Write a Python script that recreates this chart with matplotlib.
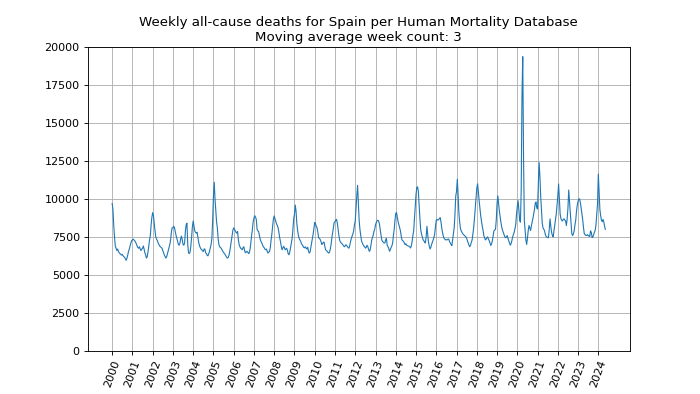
import numpy as np
import matplotlib.pyplot as plt

# Weekly deaths (3-week moving average), every 2 weeks (26 per year)
y2000 = [9700, 9300, 8300, 7500, 6900, 6750, 6600, 6700, 6550, 6450, 6400, 6350, 6300,
         6350, 6250, 6200, 6150, 6050, 5950, 6100, 6300, 6550, 6700, 6900, 7100, 7250]
y2001 = [7300, 7350, 7300, 7250, 7150, 7050, 6900, 6800, 6750, 6850, 6700, 6600, 6700,
         6750, 6900, 6700, 6450, 6300, 6100, 6200, 6500, 6900, 7300, 7600, 8300, 8800]
y2002 = [9100, 8900, 8400, 7900, 7500, 7350, 7250, 7100, 7000, 6900, 6850, 6800, 6750,
         6600, 6450, 6300, 6200, 6100, 6200, 6400, 6600, 6800, 7000, 7300, 7800, 8100]
y2003 = [8100, 8200, 8100, 7850, 7600, 7400, 7200, 7000, 6950, 7100, 7400, 7550, 7300,
         7000, 6950, 7100, 7900, 8300, 8400, 7000, 6450, 6400, 6500, 6900, 7500, 8200]
y2004 = [8550, 8200, 7900, 7800, 7750, 7800, 7500, 7150, 6950, 6800, 6700, 6650, 6580,
         6540, 6700, 6700, 6450, 6400, 6280, 6250, 6400, 6550, 6800, 7000, 7400, 8600]
y2005 = [10200, 11100, 10000, 9200, 8500, 8100, 7400, 7000, 6850, 6800, 6750, 6650, 6550,
         6480, 6400, 6330, 6250, 6150, 6100, 6150, 6300, 6550, 6900, 7300, 7650, 7950]
y2006 = [8100, 8000, 7900, 7800, 7750, 7850, 7300, 6980, 6850, 6750, 6700, 6650, 6800,
         6850, 6600, 6450, 6500, 6550, 6500, 6400, 6450, 6700, 7100, 7600, 8000, 8500]
y2007 = [8750, 8900, 8800, 8650, 8000, 7900, 7850, 7600, 7350, 7200, 7100, 6980, 6850,
         6800, 6700, 6650, 6700, 6550, 6430, 6500, 6550, 6800, 7300, 7700, 8200, 8700]
y2008 = [8880, 8700, 8500, 8350, 8250, 8100, 7800, 7450, 7200, 6900, 6650, 6750, 6880,
         6800, 6650, 6700, 6750, 6600, 6380, 6320, 6500, 6800, 7100, 7400, 8000, 8700]
y2009 = [9000, 9600, 9200, 8400, 7950, 7600, 7400, 7300, 7200, 7050, 6980, 6900, 6800,
         6780, 6850, 6750, 6700, 6820, 6550, 6430, 6500, 6800, 7100, 7400, 7700, 8100]
y2010 = [8450, 8350, 8200, 8100, 7800, 7450, 7400, 7330, 7200, 7000, 7050, 7150, 7150,
         6850, 6650, 6600, 6550, 6480, 6430, 6500, 6700, 7000, 7450, 7800, 8100, 8450]
y2011 = [8500, 8600, 8660, 8400, 8000, 7600, 7300, 7150, 7100, 7050, 6980, 6920, 6850,
         6900, 6980, 6930, 6850, 6780, 6760, 6950, 7200, 7400, 7550, 7700, 7900, 8300]
y2012 = [8550, 9400, 10200, 10900, 9800, 8600, 8000, 7600, 7250, 7100, 7000, 6900, 6850,
         6760, 6800, 6950, 6880, 6700, 6550, 6600, 6900, 7250, 7450, 7600, 7850, 8000]
y2013 = [8300, 8450, 8550, 8600, 8550, 8350, 8000, 7600, 7300, 7200, 7150, 7100, 7100,
         7300, 7400, 6950, 6850, 6750, 6550, 6650, 6800, 6900, 7100, 7600, 8000, 8600]
y2014 = [9050, 9100, 8800, 8500, 8300, 8100, 7900, 7550, 7300, 7250, 7200, 7100, 6990,
         7050, 6950, 6920, 6900, 6880, 6850, 6770, 6900, 7200, 7600, 7900, 8700, 9600]
y2015 = [10300, 10750, 10800, 10500, 9600, 8700, 8000, 7700, 7500, 7320, 7250, 7150, 7100,
         7500, 8200, 7700, 7150, 6900, 6700, 6800, 7000, 7150, 7300, 7450, 7700, 8200]
y2016 = [8600, 8650, 8600, 8650, 8700, 8770, 8500, 8100, 7800, 7550, 7400, 7350, 7300,
         7320, 7300, 7350, 7350, 7200, 7100, 7000, 6920, 7300, 7700, 8100, 9000, 10200]
y2017 = [10500, 11300, 10300, 9100, 8500, 8050, 7900, 7800, 7700, 7650, 7600, 7550, 7500,
         7400, 7250, 7100, 6950, 6850, 6950, 7150, 7300, 7700, 8100, 8700, 9400, 10200]
y2018 = [10700, 11000, 10500, 9900, 9400, 8900, 8550, 8200, 7950, 7600, 7450, 7300, 7350,
         7450, 7500, 7350, 7250, 7100, 6930, 7050, 7250, 7600, 7900, 7950, 8000, 8600]
y2019 = [9700, 10200, 9700, 9200, 8800, 8450, 8150, 7950, 7800, 7650, 7500, 7440, 7500,
         7590, 7400, 7260, 7100, 6950, 7050, 7250, 7500, 7650, 7800, 8050, 8300, 9000]
y2020 = [9500, 9890, 9300, 8600, 8470, 10500, 16800, 19380, 12800, 8600, 7900, 7300, 7000,
         7400, 7900, 8250, 8100, 7920, 8200, 8470, 8700, 9000, 9300, 9700, 9800, 9400]
y2021 = [9340, 11000, 12400, 11500, 10200, 9300, 8400, 8100, 8000, 7900, 7650, 7530, 7500,
         7450, 7450, 8000, 8690, 8200, 7800, 7600, 7500, 7900, 8250, 8600, 9000, 9600]
y2022 = [10200, 10990, 10000, 9000, 8700, 8600, 8550, 8650, 8690, 8600, 8550, 8250, 8700,
         9400, 10590, 9800, 9100, 8400, 7700, 7590, 7700, 7900, 8300, 8600, 9200, 9600]
y2023 = [9850, 10000, 10000, 9750, 9400, 9000, 8600, 8100, 7700, 7650, 7590, 7600, 7650,
         7590, 7550, 7530, 7900, 7800, 7450, 7500, 7650, 7800, 7950, 8300, 9000, 9700]
y2024 = [11640, 10500, 9300, 8900, 8600, 8500, 8650, 8500, 8200, 8000]

years = list(range(2000, 2025))
series = [y2000, y2001, y2002, y2003, y2004, y2005, y2006, y2007, y2008, y2009,
          y2010, y2011, y2012, y2013, y2014, y2015, y2016, y2017, y2018, y2019,
          y2020, y2021, y2022, y2023, y2024]

x = []
deaths = []
for yr, vals in zip(years, series):
    x.extend(yr + np.arange(len(vals)) / 26)
    deaths.extend(vals)

fig, ax = plt.subplots(figsize=(8.75, 4.925), dpi=80)
ax.plot(x, deaths, color='#1f77b4', linewidth=1.0)
ax.set_ylim(0, 20000)
ax.set_xticks(years)
ax.set_xticklabels([str(y) for y in years], rotation=70)
ax.grid(True)
ax.set_title('Weekly all-cause deaths for Spain per Human Mortality Database\n'
             'Moving average week count: 3')
fig.savefig('out.png', dpi=80)
